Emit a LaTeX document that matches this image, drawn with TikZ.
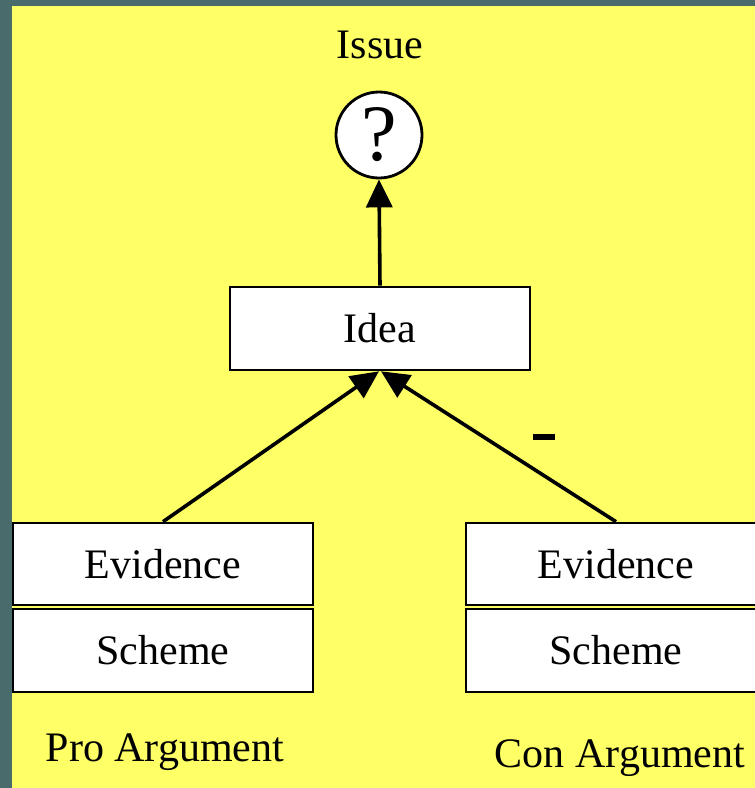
\documentclass[tikz,border=0pt]{standalone}
\usepackage{fontspec}
\setmainfont{Liberation Serif}
\usetikzlibrary{arrows.meta}
\definecolor{slate}{HTML}{4A6B6B}
\definecolor{bgyellow}{HTML}{FFFF66}
\tikzset{
  box/.style={draw=black, line width=2.6pt, fill=white, minimum width=300pt, minimum height=83pt, inner sep=0pt, font=\fontsize{42}{50}\selectfont},
  lbl/.style={inner sep=0pt, font=\fontsize{42}{50}\selectfont},
  arr/.style={line width=3.6pt, -{Triangle[length=28pt, width=26pt]}},
}
\begin{document}
\begin{tikzpicture}[x=1pt, y=-1pt]
\useasboundingbox (0,0) rectangle (755,788);
\fill[slate] (0,0) rectangle (755,788);
\fill[bgyellow] (12,6) rectangle (755,788);
\clip (0,0) rectangle (755,788);
\node[lbl] (issuelbl) at (380,45) {Issue};
\node[draw=black, line width=2.8pt, fill=white, circle, minimum size=86pt, inner sep=0pt, font=\fontsize{80}{86}\selectfont] (q) at (379,135) {?};
\node[box] (idea) at (380,328.5) {Idea};
\node[box, minimum height=82pt] (ev1) at (163,564) {Evidence};
\node[box, minimum height=83pt] (sc1) at (163,650.5) {Scheme};
\node[box, minimum height=82pt] (ev2) at (616,564) {Evidence};
\node[box, minimum height=83pt] (sc2) at (616,650.5) {Scheme};
\node[lbl] (pro) at (165,752) {Pro Argument};
\node[lbl] (con) at (620,758) {Con Argument};
\node[inner sep=0pt] (minus) at (544,437) {\rule{22pt}{6pt}};
\draw[arr] (idea.north) -- (q.south);
\draw[arr] (ev1.north) -- ([xshift=-1pt]idea.south);
\draw[arr] (ev2.north) -- ([xshift=1pt]idea.south);
\end{tikzpicture}
\end{document}
